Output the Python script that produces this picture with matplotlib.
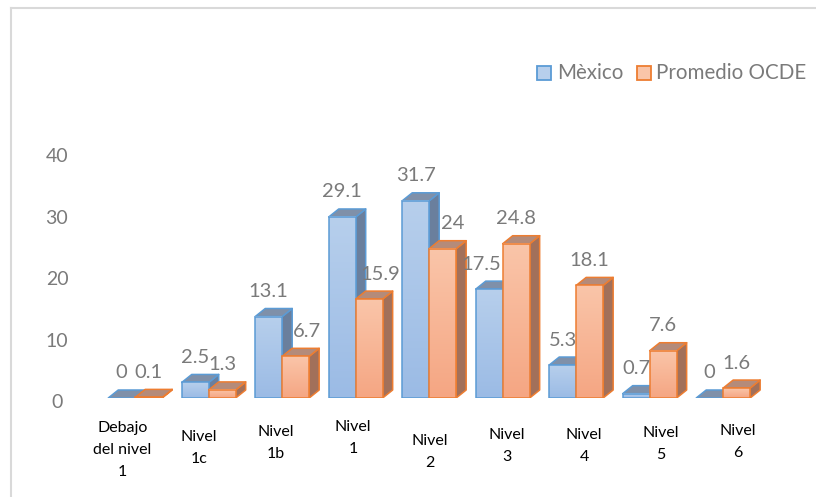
import numpy as np
import matplotlib
matplotlib.use('Agg')
import matplotlib.pyplot as plt
from matplotlib.patches import Polygon, Rectangle
from matplotlib.colors import LinearSegmentedColormap
from matplotlib.lines import Line2D
import matplotlib.transforms as mtransforms

plt.rcParams['font.family'] = ['Lato', 'DejaVu Sans']

# data
categories = ['Debajo\ndel nivel\n1', 'Nivel\n1c', 'Nivel\n1b', 'Nivel\n1', 'Nivel\n2',
              'Nivel\n3', 'Nivel\n4', 'Nivel\n5', 'Nivel\n6']
mexico = [0, 2.5, 13.1, 29.1, 31.7, 17.5, 5.3, 0.7, 0]
ocde = [0.1, 1.3, 6.7, 15.9, 24, 24.8, 18.1, 7.6, 1.6]
series_names = ['Mèxico', 'Promedio OCDE']
yticks = [0, 10, 20, 30, 40]

# layout tweaks (pixels) copied from the excel look
label_nudge_mex = [0, 0, 0, 0, 0, -8, 0, 0, 0]
label_nudge_ocde = [0, 0, 11, 11, 10, 0, 0, 0, 0]
cat_label_top = [428, 437, 432, 427, 441, 435, 435, 433, 431]

W, H = 816, 497
fig = plt.figure(figsize=(W / 100, H / 100), dpi=100)
ax = fig.add_axes([80.1 / W, (H - 398) / H, 712.9 / W, 298.6 / H])
ax.set_xlim(-0.75, 8.95)
ax.set_ylim(0, 48)
ax.axis('off')

bw = 0.367
dx, dy = 0.136, 1.286

styles = [
    dict(top='#b7cfec', bot='#9bbbe5', side='#6a7f9d', cap='#7f90a9', edge='#5b9bd5'),
    dict(top='#fac5a9', bot='#f5a683', side='#a2705a', cap='#b48b7a', edge='#ed7d31'),
]


def draw_bar(x0, h, st, z):
    x1 = x0 + bw
    side = Polygon([(x1, 0), (x1 + dx, dy), (x1 + dx, h + dy), (x1, h)], closed=True,
                   facecolor=st['side'], edgecolor=st['edge'], lw=1.1, zorder=z, joinstyle='round')
    top = Polygon([(x0, h), (x1, h), (x1 + dx, h + dy), (x0 + dx, h + dy)], closed=True,
                  facecolor=st['cap'], edgecolor=st['edge'], lw=1.1, zorder=z + 0.1, joinstyle='round')
    ax.add_patch(side)
    ax.add_patch(top)
    if h > 0:
        cmap = LinearSegmentedColormap.from_list('g', [st['top'], st['bot']])
        grad = np.linspace(0, 1, 64).reshape(-1, 1)
        ax.imshow(grad, cmap=cmap, extent=[x0, x1, 0, h], aspect='auto', zorder=z + 0.2,
                  interpolation='bilinear')
        ax.add_patch(Rectangle((x0, 0), bw, h, facecolor='none', edgecolor=st['edge'],
                               lw=1.1, zorder=z + 0.3))


z = 2
for i in range(len(categories)):
    draw_bar(i - bw, mexico[i], styles[0], z)
    z += 1
    draw_bar(i, ocde[i], styles[1], z)
    z += 1

ax.set_xlim(-0.75, 8.95)
ax.set_ylim(0, 48)

# data labels
lab_color = '#7a7a7a'
for i in range(len(categories)):
    for vals, nud, x0 in [(mexico, label_nudge_mex, i - bw), (ocde, label_nudge_ocde, i)]:
        v = vals[i]
        off = mtransforms.ScaledTranslation(nud[i] / 100, 25 / 100, fig.dpi_scale_trans)
        ax.text(x0 + bw / 2, v, f'{v:g}', ha='center', va='center', fontsize=14.5,
                color=lab_color, transform=ax.transData + off, zorder=100, clip_on=False)

# y axis labels (drawn on the back wall, slightly lower)
ytr = mtransforms.blended_transform_factory(fig.transFigure, ax.transData)
for v in yticks:
    off = mtransforms.ScaledTranslation(0, -(5 + 0.07 * v) / 100, fig.dpi_scale_trans)
    fig.text(57 / W, v, str(v), ha='center', va='center', fontsize=14, color=lab_color,
             transform=ytr + off)

# category labels
xtr = mtransforms.blended_transform_factory(ax.transData, fig.transFigure)
for i, cat in enumerate(categories):
    xl = i * 77 / 73.5 - 13 / 73.5
    for k, line in enumerate(cat.split('\n')):
        fig.text(xl, 1 - (cat_label_top[i] + 22 * k) / H, line, ha='center', va='center',
                 fontsize=11.5, color='black', transform=xtr)

# legend
leg_x = [537, 637]
txt_x = [557, 656]
for j, name in enumerate(series_names):
    fig.patches.append(Rectangle((leg_x[j] / W, 1 - 80 / H), 14 / W, 14 / H,
                                 facecolor=styles[j]['top'], edgecolor=styles[j]['edge'],
                                 lw=1.3, transform=fig.transFigure, figure=fig))
    fig.text(txt_x[j] / W, 1 - 73 / H, name, ha='left', va='center', fontsize=14.8,
             color=lab_color)

# chart border
fig.lines.append(Line2D([11 / W, 11 / W], [0, 1 - 8 / H], color='#d9d9d9', lw=1.5,
                        transform=fig.transFigure))
fig.lines.append(Line2D([11 / W, 1], [1 - 8 / H, 1 - 8 / H], color='#d9d9d9', lw=1.5,
                        transform=fig.transFigure))

plt.savefig('out.png', dpi=100)
